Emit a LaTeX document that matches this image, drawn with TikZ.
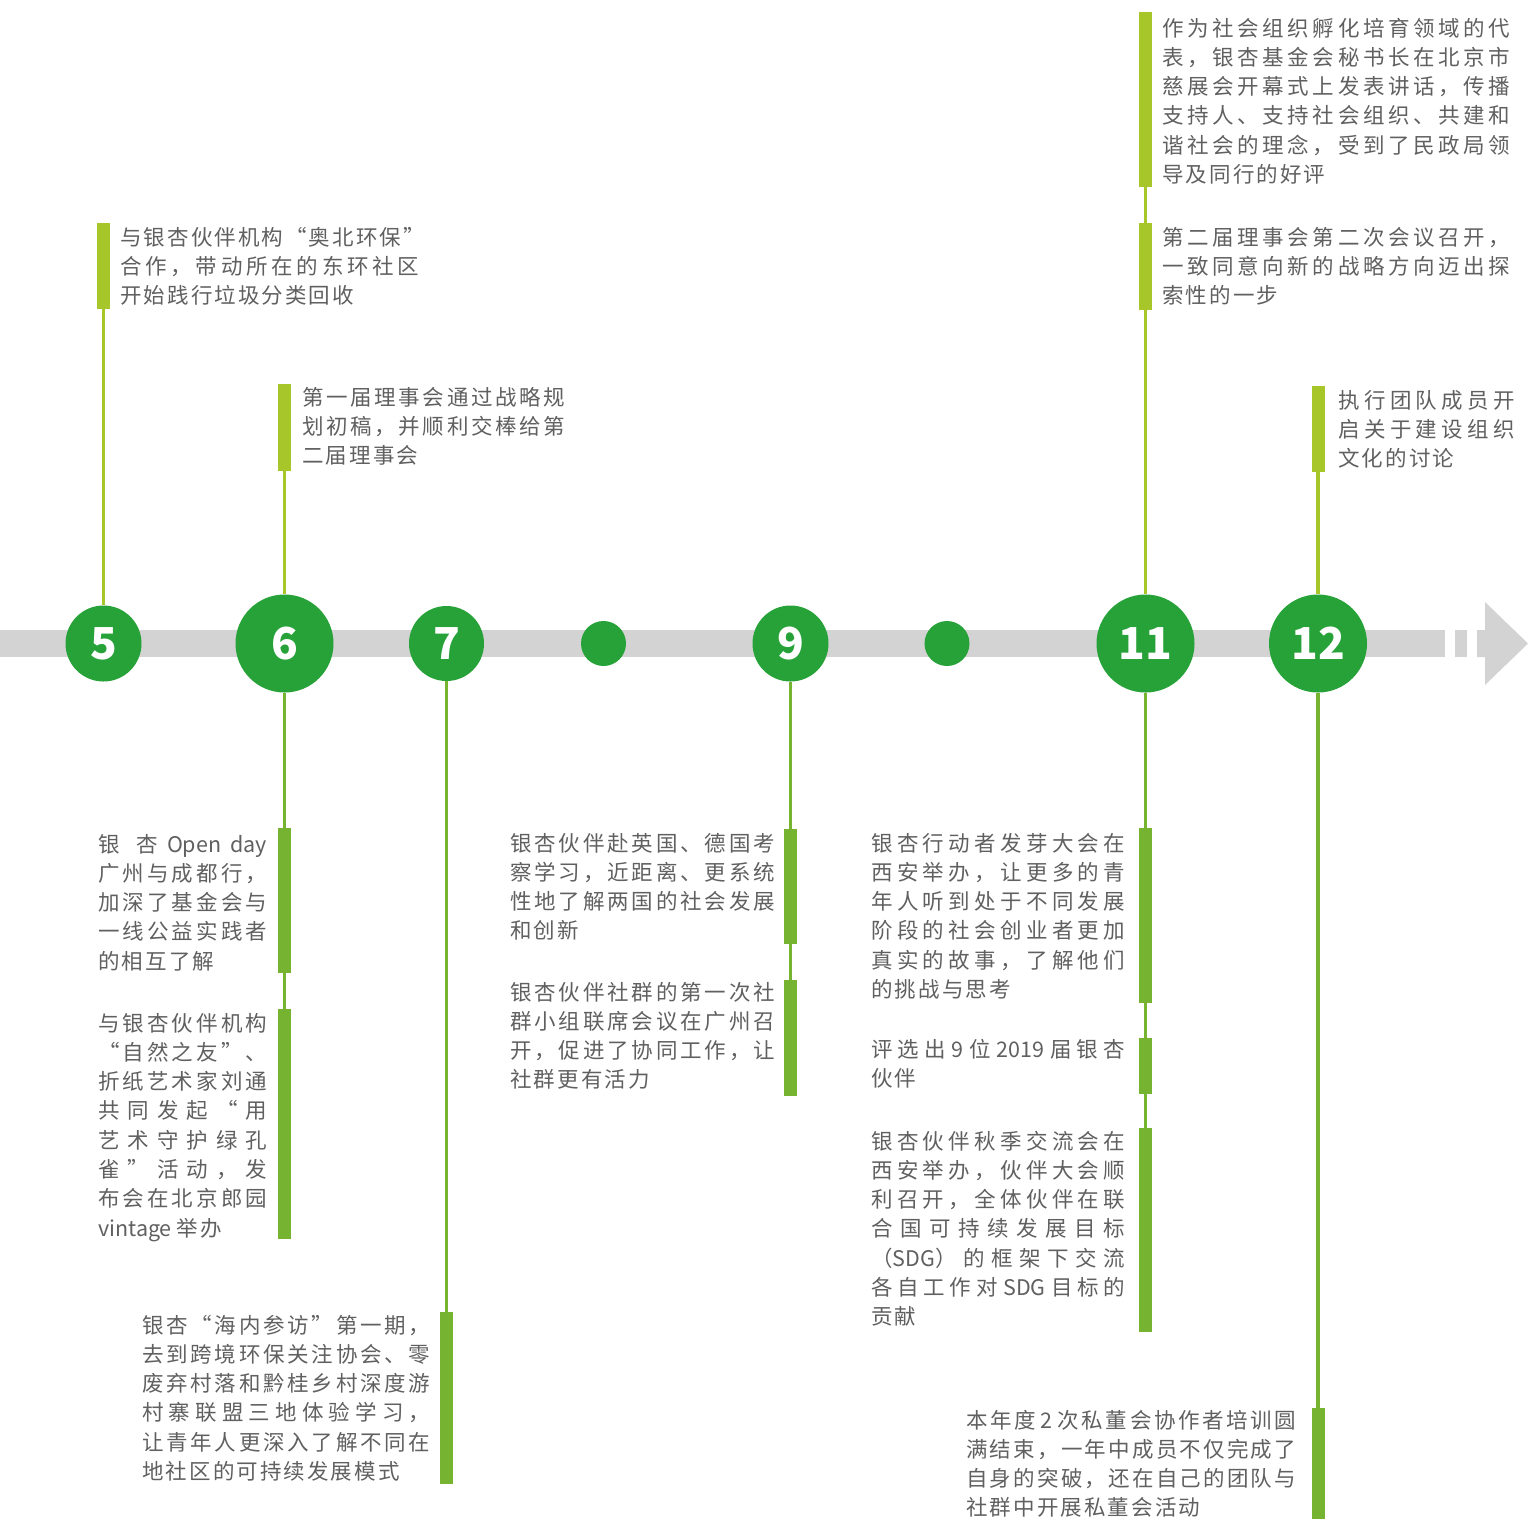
\documentclass[tikz,border=0pt]{standalone}
\usepackage{fontspec}
\newfontfamily\cjk{Noto Sans CJK SC}
\tikzset{x=1pt,y=-1pt}
\definecolor{tlgray}{RGB}{211,211,211}
\definecolor{tlgreen}{RGB}{39,162,57}
\definecolor{toplime}{RGB}{166,198,41}
\definecolor{lowgreen}{RGB}{117,179,48}
\definecolor{txtgray}{RGB}{96,96,96}
\def\numfont{\cjk\bfseries\fontsize{44}{44}\selectfont}
\def\notefont{\cjk\fontsize{21.5}{29.3}\selectfont}
% glue between han characters, so that lines can be justified
\newXeTeXintercharclass\hanclass
\newcount\hancode
\def\sethan#1#2{\hancode=#1 \loop\XeTeXcharclass\hancode=\hanclass\relax
  \ifnum\hancode<#2 \advance\hancode by 1 \repeat}
\sethan{"3001}{"303F}
\sethan{"4E00}{"9FFF}
\sethan{"FF01}{"FF5E}
\sethan{"201C}{"201D}
\XeTeXinterchartoks\hanclass\hanclass={\nobreak\hskip 2.1pt plus 8pt\relax}
\XeTeXinterchartokenstate=1
\hbadness=10000
\tikzstyle{monthdot}=[circle,fill=tlgreen,inner sep=0,text=white,font=\numfont]
\tikzstyle{topbar}=[fill=toplime,inner sep=0,minimum width=13]
\tikzstyle{lowbar}=[fill=lowgreen,inner sep=0,minimum width=13]
\tikzstyle{topstem}=[toplime,line width=3.5]
\tikzstyle{lowstem}=[lowgreen,line width=3.5]
\tikzstyle{notetext}=[inner sep=0,anchor=north west,align=justify,text=txtgray,font=\notefont]
\begin{document}
\begin{tikzpicture}
  \useasboundingbox (0,0) rectangle (1528,1519);

  % TIMELINE
  \fill[tlgray] (0,630) rectangle (1445,657);
  \fill[tlgray] (1455,630) rectangle (1467,657);
  \fill[tlgray] (1477,630) -- (1485,630) -- (1485,602) -- (1528,643.5)
    -- (1485,685) -- (1485,657) -- (1477,657) -- cycle;

  % MONTHS
  \node[monthdot,minimum size=76] (N5)  at (103.5,643.5) {5};
  \node[monthdot,minimum size=98] (N6)  at (284.5,643.5) {6};
  \node[monthdot,minimum size=75] (N7)  at (446.5,643.5) {7};
  \node[monthdot,minimum size=45] (N8)  at (603.5,643.5) {};
  \node[monthdot,minimum size=76] (N9)  at (790.5,643.5) {9};
  \node[monthdot,minimum size=45] (N10) at (947,643.5)   {};
  \node[monthdot,minimum size=98] (N11) at (1145.5,643.5) {11};
  \node[monthdot,minimum size=98] (N12) at (1318,643.5)  {12};

  % MARKS ABOVE
  \node[topbar,minimum height=86]  (B5)   at (103.5,266)   {};
  \node[topbar,minimum height=87]  (B6)   at (284.5,427.5) {};
  \node[topbar,minimum height=175] (B11a) at (1145.5,99.5) {};
  \node[topbar,minimum height=87]  (B11b) at (1145.5,266.5) {};
  \node[topbar,minimum height=86]  (B12)  at (1318,429)    {};

  % MARKS BELOW
  \node[lowbar,minimum height=145] (B6b)  at (284.5,900.5) {};
  \node[lowbar,minimum height=230] (B6c)  at (284.5,1124)  {};
  \node[lowbar,minimum height=172] (B7)   at (446.5,1398)  {};
  \node[lowbar,minimum height=115] (B9)   at (790.5,886.5) {};
  \node[lowbar,minimum height=116] (B9b)  at (790.5,1038)  {};
  \node[lowbar,minimum height=175] (B11c) at (1145.5,915.5) {};
  \node[lowbar,minimum height=56]  (B11d) at (1145.5,1066) {};
  \node[lowbar,minimum height=204] (B11e) at (1145.5,1230) {};
  \node[lowbar,minimum height=111] (B12b) at (1318,1463.5) {};

  % STEMS
  \draw[topstem] (B5.south) -- (N5.north);
  \draw[topstem] (B6.south) -- (N6.north);
  \draw[topstem] (B11a.south) -- (B11b.north);
  \draw[topstem] (B11b.south) -- (N11.north);
  \draw[topstem] (B12.south) -- (N12.north);
  \draw[lowstem] (N6.south) -- (B6b.north);
  \draw[lowstem] (B6b.south) -- (B6c.north);
  \draw[lowstem] (N7.south) -- (B7.north);
  \draw[lowstem] (N9.south) -- (B9.north);
  \draw[lowstem] (B9.south) -- (B9b.north);
  \draw[lowstem] (N11.south) -- (B11c.north);
  \draw[lowstem] (B11c.south) -- (B11d.north);
  \draw[lowstem] (B11d.south) -- (B11e.north);
  \draw[lowstem] (N12.south) -- (B12b.north);

  % TEXTS ABOVE
  \node[notetext,text width=299] (T5) at (120,224.3)
    {\strut 与银杏伙伴机构“奥北环保”\linebreak 合作，带动所在的东环社区\linebreak 开始践行垃圾分类回收};
  \node[notetext,text width=263] (T6) at (302,384.3)
    {\strut 第一届理事会通过战略规\linebreak 划初稿，并顺利交棒给第\linebreak 二届理事会};
  \node[notetext,text width=348] (T11a) at (1162,15.3)
    {\strut 作为社会组织孵化培育领域的代\linebreak 表，银杏基金会秘书长在北京市\linebreak 慈展会开幕式上发表讲话，传播\linebreak 支持人、支持社会组织、共建和\linebreak 谐社会的理念，受到了民政局领\linebreak 导及同行的好评};
  \node[notetext,text width=348] (T11b) at (1162,224.3)
    {\strut 第二届理事会第二次会议召开，\linebreak 一致同意向新的战略方向迈出探\linebreak 索性的一步};
  \node[notetext,text width=177] (T12) at (1338,387.3)
    {\strut 执行团队成员开\linebreak 启关于建设组织\linebreak 文化的讨论};

  % TEXTS BELOW
  \node[notetext,text width=169] (T6b) at (98,831.3)
    {\strut 银杏~Open~day\linebreak 广州与成都行，\linebreak 加深了基金会与\linebreak 一线公益实践者\linebreak 的相互了解};
  \node[notetext,text width=169] (T6c) at (98,1010.3)
    {\strut 与银杏伙伴机构\linebreak “自然之友”、\linebreak 折纸艺术家刘通\linebreak 共同发起“用\linebreak 艺术守护绿孔\linebreak 雀”活动，发\linebreak 布会在北京郎园\linebreak vintage~举办};
  \node[notetext,text width=288] (T7) at (142,1312.3)
    {\strut 银杏“海内参访”第一期，\linebreak 去到跨境环保关注协会、零\linebreak 废弃村落和黔桂乡村深度游\linebreak 村寨联盟三地体验学习，\linebreak 让青年人更深入了解不同在\linebreak 地社区的可持续发展模式};
  \node[notetext,text width=265] (T9) at (510,830.3)
    {\strut 银杏伙伴赴英国、德国考\linebreak 察学习，近距离、更系统\linebreak 性地了解两国的社会发展\linebreak 和创新};
  \node[notetext,text width=265] (T9b) at (510,979.3)
    {\strut 银杏伙伴社群的第一次社\linebreak 群小组联席会议在广州召\linebreak 开，促进了协同工作，让\linebreak 社群更有活力};
  \node[notetext,text width=254] (T11c) at (871,830.3)
    {\strut 银杏行动者发芽大会在\linebreak 西安举办，让更多的青\linebreak 年人听到处于不同发展\linebreak 阶段的社会创业者更加\linebreak 真实的故事，了解他们\linebreak 的挑战与思考};
  \node[notetext,text width=254] (T11d) at (871,1036.3)
    {\strut 评选出~9~位~2019~届银杏\linebreak 伙伴};
  \node[notetext,text width=254] (T11e) at (871,1128.3)
    {\strut 银杏伙伴秋季交流会在\linebreak 西安举办，伙伴大会顺\linebreak 利召开，全体伙伴在联\linebreak 合国可持续发展目标\linebreak （SDG）的框架下交流\linebreak 各自工作对~SDG~目标的\linebreak 贡献};
  \node[notetext,text width=330] (T12b) at (966,1407.3)
    {\strut 本年度~2~次私董会协作者培训圆\linebreak 满结束，一年中成员不仅完成了\linebreak 自身的突破，还在自己的团队与\linebreak 社群中开展私董会活动};
\end{tikzpicture}
\end{document}
